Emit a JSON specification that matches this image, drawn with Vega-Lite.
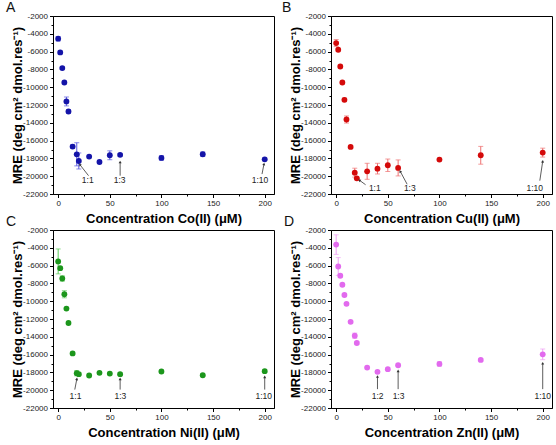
{
  "$schema": "https://vega.github.io/schema/vega-lite/v6.json",
  "padding": {"left": 5, "top": 0, "right": 2, "bottom": 2},
  "background": "white",
  "datasets": {
    "co": [
      {"conc": 0, "mre": -4550, "err": 250},
      {"conc": 2, "mre": -6090, "err": 150},
      {"conc": 4, "mre": -7850, "err": 150},
      {"conc": 6, "mre": -9470, "err": 150},
      {"conc": 8, "mre": -11600, "err": 500},
      {"conc": 10, "mre": -12730, "err": 200},
      {"conc": 14, "mre": -16670, "err": 200},
      {"conc": 18, "mre": -17540, "err": 1300},
      {"conc": 20, "mre": -18290, "err": 900},
      {"conc": 30, "mre": -17800, "err": 150},
      {"conc": 40, "mre": -18400, "err": 150},
      {"conc": 50, "mre": -17650, "err": 500},
      {"conc": 60, "mre": -17600, "err": 150},
      {"conc": 100, "mre": -17950, "err": 250},
      {"conc": 140, "mre": -17530, "err": 250},
      {"conc": 200, "mre": -18100, "err": 150}
    ],
    "coNotes": [
      {"label": "1:1", "conc": 21, "mre": -18700, "tx": 29.4, "ty": -19940, "lx": 28.6, "ly": -20470},
      {"label": "1:3", "conc": 60, "mre": -18400, "tx": 60, "ty": -19940, "lx": 59.5, "ly": -20470},
      {"label": "1:10", "conc": 199.3, "mre": -18630, "tx": 197.4, "ty": -19760, "lx": 195.4, "ly": -20470}
    ],
    "cu": [
      {"conc": 0, "mre": -5040, "err": 400},
      {"conc": 2, "mre": -5790, "err": 150},
      {"conc": 4, "mre": -7670, "err": 150},
      {"conc": 6, "mre": -9470, "err": 150},
      {"conc": 8, "mre": -11420, "err": 200},
      {"conc": 10, "mre": -13630, "err": 400},
      {"conc": 14, "mre": -16710, "err": 150},
      {"conc": 18, "mre": -19600, "err": 500},
      {"conc": 20, "mre": -20240, "err": 150},
      {"conc": 30, "mre": -19450, "err": 900},
      {"conc": 40, "mre": -19150, "err": 600},
      {"conc": 50, "mre": -18770, "err": 700},
      {"conc": 60, "mre": -19070, "err": 900},
      {"conc": 100, "mre": -18130, "err": 150},
      {"conc": 140, "mre": -17650, "err": 1000},
      {"conc": 200, "mre": -17350, "err": 500}
    ],
    "cuNotes": [
      {"label": "1:1", "conc": 22.5, "mre": -20450, "tx": 28.5, "ty": -20960, "lx": 37.4, "ly": -21330},
      {"label": "1:3", "conc": 62, "mre": -19450, "tx": 68.7, "ty": -20900, "lx": 71.3, "ly": -21330},
      {"label": "1:10", "conc": 200, "mre": -18330, "tx": 197.2, "ty": -20500, "lx": 192.3, "ly": -21330}
    ],
    "ni": [
      {"conc": 0, "mre": -5530, "err": 1400},
      {"conc": 2, "mre": -6290, "err": 150},
      {"conc": 4, "mre": -7450, "err": 300},
      {"conc": 6, "mre": -9220, "err": 400},
      {"conc": 8, "mre": -10830, "err": 150},
      {"conc": 10, "mre": -12450, "err": 150},
      {"conc": 14, "mre": -15870, "err": 150},
      {"conc": 18, "mre": -18090, "err": 300},
      {"conc": 20, "mre": -18200, "err": 150},
      {"conc": 30, "mre": -18350, "err": 150},
      {"conc": 40, "mre": -18050, "err": 150},
      {"conc": 50, "mre": -18130, "err": 150},
      {"conc": 60, "mre": -18200, "err": 150},
      {"conc": 100, "mre": -17900, "err": 150},
      {"conc": 140, "mre": -18320, "err": 150},
      {"conc": 200, "mre": -17860, "err": 150}
    ],
    "niNotes": [
      {"label": "1:1", "conc": 18.1, "mre": -18730, "tx": 16.1, "ty": -19930, "lx": 16.8, "ly": -20690},
      {"label": "1:3", "conc": 60, "mre": -18730, "tx": 60, "ty": -19930, "lx": 60.3, "ly": -20690},
      {"label": "1:10", "conc": 200, "mre": -18500, "tx": 200, "ty": -19930, "lx": 199, "ly": -20690}
    ],
    "zn": [
      {"conc": 0, "mre": -3640, "err": 1100},
      {"conc": 2, "mre": -6100, "err": 1000},
      {"conc": 4, "mre": -7140, "err": 150},
      {"conc": 6, "mre": -8150, "err": 150},
      {"conc": 8, "mre": -9300, "err": 150},
      {"conc": 10, "mre": -10300, "err": 150},
      {"conc": 14, "mre": -12320, "err": 150},
      {"conc": 18, "mre": -13880, "err": 300},
      {"conc": 20, "mre": -14700, "err": 150},
      {"conc": 30, "mre": -17460, "err": 150},
      {"conc": 40, "mre": -17940, "err": 150},
      {"conc": 50, "mre": -17640, "err": 150},
      {"conc": 60, "mre": -17200, "err": 150},
      {"conc": 100, "mre": -17050, "err": 250},
      {"conc": 140, "mre": -16600, "err": 150},
      {"conc": 200, "mre": -15970, "err": 600}
    ],
    "znNotes": [
      {"label": "1:2", "conc": 40, "mre": -18460, "tx": 40, "ty": -19880, "lx": 40.2, "ly": -20610},
      {"label": "1:3", "conc": 60, "mre": -17830, "tx": 60, "ty": -19880, "lx": 60.4, "ly": -20610},
      {"label": "1:10", "conc": 200, "mre": -16970, "tx": 200, "ty": -19880, "lx": 200, "ly": -20610}
    ]
  },
  "columns": 2,
  "spacing": {"row": 36, "column": 57},
  "bounds": "flush",
  "concat": [
    {
      "width": 221, "height": 178,
      "title": {"text": "A", "dx": -47},
      "encoding": {
        "x": {"field": "conc", "type": "quantitative", "title": "Concentration Co(II) (μM)", "scale": {"domain": [-5, 209], "nice": false, "zero": false},
          "axis": {"values": [0, 25, 50, 75, 100, 125, 150, 175, 200],
            "labelExpr": "datum.value % 50 === 0 ? '' + datum.value : ''",
            "tickSize": {"condition": {"test": "datum.value % 50 === 0", "value": 3.5}, "value": 2}}},
        "y": {"field": "mre", "type": "quantitative", "title": "MRE (deg cm² dmol.res⁻¹)", "scale": {"domain": [-22000, -2000], "nice": false, "zero": false},
          "axis": {"values": [-22000, -21000, -20000, -19000, -18000, -17000, -16000, -15000, -14000, -13000, -12000, -11000, -10000, -9000, -8000, -7000, -6000, -5000, -4000, -3000, -2000],
            "labelExpr": "datum.value % 2000 === 0 ? '' + datum.value : ''",
            "tickSize": {"condition": {"test": "datum.value % 2000 === 0", "value": 3.5}, "value": 2}}}
      },
      "layer": [
        {"data": {"name": "co"}, "mark": {"type": "errorbar", "color": "#5a5ae0", "thickness": 1, "ticks": {"size": 5, "thickness": 1}},
          "encoding": {"yError": {"field": "err"}}},
        {"data": {"name": "co"}, "mark": {"type": "point", "filled": true, "opacity": 1, "size": 34, "color": "#1414a8"}},
        {"data": {"name": "coNotes"}, "mark": {"type": "rule", "color": "#333333", "strokeWidth": 0.8},
          "encoding": {"x2": {"field": "tx"}, "y2": {"field": "ty"}}},
        {"data": {"name": "coNotes"},
          "transform": [{"calculate": "atan2((datum.conc - datum.tx) * 1.033, (datum.mre - datum.ty) * 0.0089) * 180 / PI", "as": "heading"}],
          "mark": {"type": "point", "shape": "triangle-up", "filled": true, "opacity": 1, "size": 9, "color": "#333333"},
          "encoding": {"angle": {"field": "heading", "type": "quantitative", "scale": null}}},
        {"data": {"name": "coNotes"}, "mark": {"type": "text", "fontSize": 8.5, "color": "#222222"},
          "encoding": {
            "x": {"field": "lx", "type": "quantitative", "title": "Concentration Co(II) (μM)", "scale": {"domain": [-5, 209], "nice": false, "zero": false}},
            "y": {"field": "ly", "type": "quantitative", "title": "MRE (deg cm² dmol.res⁻¹)", "scale": {"domain": [-22000, -2000], "nice": false, "zero": false}},
            "text": {"field": "label"}}}
      ]
    },
    {
      "width": 221, "height": 178,
      "title": {"text": "B", "dx": -49},
      "encoding": {
        "x": {"field": "conc", "type": "quantitative", "title": "Concentration Cu(II) (μM)", "scale": {"domain": [-5, 209], "nice": false, "zero": false},
          "axis": {"values": [0, 25, 50, 75, 100, 125, 150, 175, 200],
            "labelExpr": "datum.value % 50 === 0 ? '' + datum.value : ''",
            "tickSize": {"condition": {"test": "datum.value % 50 === 0", "value": 3.5}, "value": 2}}},
        "y": {"field": "mre", "type": "quantitative", "title": "MRE (deg cm² dmol.res⁻¹)", "scale": {"domain": [-22000, -2000], "nice": false, "zero": false},
          "axis": {"values": [-22000, -21000, -20000, -19000, -18000, -17000, -16000, -15000, -14000, -13000, -12000, -11000, -10000, -9000, -8000, -7000, -6000, -5000, -4000, -3000, -2000],
            "labelExpr": "datum.value % 2000 === 0 ? '' + datum.value : ''",
            "tickSize": {"condition": {"test": "datum.value % 2000 === 0", "value": 3.5}, "value": 2}}}
      },
      "layer": [
        {"data": {"name": "cu"}, "mark": {"type": "errorbar", "color": "#ee7070", "thickness": 1, "ticks": {"size": 5, "thickness": 1}},
          "encoding": {"yError": {"field": "err"}}},
        {"data": {"name": "cu"}, "mark": {"type": "point", "filled": true, "opacity": 1, "size": 34, "color": "#d40a0a"}},
        {"data": {"name": "cuNotes"}, "mark": {"type": "rule", "color": "#333333", "strokeWidth": 0.8},
          "encoding": {"x2": {"field": "tx"}, "y2": {"field": "ty"}}},
        {"data": {"name": "cuNotes"},
          "transform": [{"calculate": "atan2((datum.conc - datum.tx) * 1.033, (datum.mre - datum.ty) * 0.0089) * 180 / PI", "as": "heading"}],
          "mark": {"type": "point", "shape": "triangle-up", "filled": true, "opacity": 1, "size": 9, "color": "#333333"},
          "encoding": {"angle": {"field": "heading", "type": "quantitative", "scale": null}}},
        {"data": {"name": "cuNotes"}, "mark": {"type": "text", "fontSize": 8.5, "color": "#222222"},
          "encoding": {
            "x": {"field": "lx", "type": "quantitative", "title": "Concentration Cu(II) (μM)", "scale": {"domain": [-5, 209], "nice": false, "zero": false}},
            "y": {"field": "ly", "type": "quantitative", "title": "MRE (deg cm² dmol.res⁻¹)", "scale": {"domain": [-22000, -2000], "nice": false, "zero": false}},
            "text": {"field": "label"}}}
      ]
    },
    {
      "width": 221, "height": 178,
      "title": {"text": "C", "dx": -47},
      "encoding": {
        "x": {"field": "conc", "type": "quantitative", "title": "Concentration Ni(II) (μM)", "scale": {"domain": [-5, 209], "nice": false, "zero": false},
          "axis": {"values": [0, 25, 50, 75, 100, 125, 150, 175, 200],
            "labelExpr": "datum.value % 50 === 0 ? '' + datum.value : ''",
            "tickSize": {"condition": {"test": "datum.value % 50 === 0", "value": 3.5}, "value": 2}}},
        "y": {"field": "mre", "type": "quantitative", "title": "MRE (deg cm² dmol.res⁻¹)", "scale": {"domain": [-22000, -2000], "nice": false, "zero": false},
          "axis": {"values": [-22000, -21000, -20000, -19000, -18000, -17000, -16000, -15000, -14000, -13000, -12000, -11000, -10000, -9000, -8000, -7000, -6000, -5000, -4000, -3000, -2000],
            "labelExpr": "datum.value % 2000 === 0 ? '' + datum.value : ''",
            "tickSize": {"condition": {"test": "datum.value % 2000 === 0", "value": 3.5}, "value": 2}}}
      },
      "layer": [
        {"data": {"name": "ni"}, "mark": {"type": "errorbar", "color": "#5ccc5c", "thickness": 1, "ticks": {"size": 5, "thickness": 1}},
          "encoding": {"yError": {"field": "err"}}},
        {"data": {"name": "ni"}, "mark": {"type": "point", "filled": true, "opacity": 1, "size": 34, "color": "#1c961c"}},
        {"data": {"name": "niNotes"}, "mark": {"type": "rule", "color": "#333333", "strokeWidth": 0.8},
          "encoding": {"x2": {"field": "tx"}, "y2": {"field": "ty"}}},
        {"data": {"name": "niNotes"},
          "transform": [{"calculate": "atan2((datum.conc - datum.tx) * 1.033, (datum.mre - datum.ty) * 0.0089) * 180 / PI", "as": "heading"}],
          "mark": {"type": "point", "shape": "triangle-up", "filled": true, "opacity": 1, "size": 9, "color": "#333333"},
          "encoding": {"angle": {"field": "heading", "type": "quantitative", "scale": null}}},
        {"data": {"name": "niNotes"}, "mark": {"type": "text", "fontSize": 8.5, "color": "#222222"},
          "encoding": {
            "x": {"field": "lx", "type": "quantitative", "title": "Concentration Ni(II) (μM)", "scale": {"domain": [-5, 209], "nice": false, "zero": false}},
            "y": {"field": "ly", "type": "quantitative", "title": "MRE (deg cm² dmol.res⁻¹)", "scale": {"domain": [-22000, -2000], "nice": false, "zero": false}},
            "text": {"field": "label"}}}
      ]
    },
    {
      "width": 221, "height": 178,
      "title": {"text": "D", "dx": -47},
      "encoding": {
        "x": {"field": "conc", "type": "quantitative", "title": "Concentration Zn(II) (μM)", "scale": {"domain": [-5, 209], "nice": false, "zero": false},
          "axis": {"values": [0, 25, 50, 75, 100, 125, 150, 175, 200],
            "labelExpr": "datum.value % 50 === 0 ? '' + datum.value : ''",
            "tickSize": {"condition": {"test": "datum.value % 50 === 0", "value": 3.5}, "value": 2}}},
        "y": {"field": "mre", "type": "quantitative", "title": "MRE (deg cm² dmol.res⁻¹)", "scale": {"domain": [-22000, -2000], "nice": false, "zero": false},
          "axis": {"values": [-22000, -21000, -20000, -19000, -18000, -17000, -16000, -15000, -14000, -13000, -12000, -11000, -10000, -9000, -8000, -7000, -6000, -5000, -4000, -3000, -2000],
            "labelExpr": "datum.value % 2000 === 0 ? '' + datum.value : ''",
            "tickSize": {"condition": {"test": "datum.value % 2000 === 0", "value": 3.5}, "value": 2}}}
      },
      "layer": [
        {"data": {"name": "zn"}, "mark": {"type": "errorbar", "color": "#f0a0f5", "thickness": 1, "ticks": {"size": 5, "thickness": 1}},
          "encoding": {"yError": {"field": "err"}}},
        {"data": {"name": "zn"}, "mark": {"type": "point", "filled": true, "opacity": 1, "size": 34, "color": "#e26aee"}},
        {"data": {"name": "znNotes"}, "mark": {"type": "rule", "color": "#333333", "strokeWidth": 0.8},
          "encoding": {"x2": {"field": "tx"}, "y2": {"field": "ty"}}},
        {"data": {"name": "znNotes"},
          "transform": [{"calculate": "atan2((datum.conc - datum.tx) * 1.033, (datum.mre - datum.ty) * 0.0089) * 180 / PI", "as": "heading"}],
          "mark": {"type": "point", "shape": "triangle-up", "filled": true, "opacity": 1, "size": 9, "color": "#333333"},
          "encoding": {"angle": {"field": "heading", "type": "quantitative", "scale": null}}},
        {"data": {"name": "znNotes"}, "mark": {"type": "text", "fontSize": 8.5, "color": "#222222"},
          "encoding": {
            "x": {"field": "lx", "type": "quantitative", "title": "Concentration Zn(II) (μM)", "scale": {"domain": [-5, 209], "nice": false, "zero": false}},
            "y": {"field": "ly", "type": "quantitative", "title": "MRE (deg cm² dmol.res⁻¹)", "scale": {"domain": [-22000, -2000], "nice": false, "zero": false}},
            "text": {"field": "label"}}}
      ]
    }
  ],
  "config": {
    "font": "Liberation Sans",
    "view": {"stroke": "#000000", "strokeWidth": 1},
    "title": {"anchor": "start", "frame": "group", "fontSize": 14, "fontWeight": "normal", "color": "#111111", "offset": -3},
    "axis": {
      "grid": false,
      "domainColor": "#000000",
      "tickColor": "#000000",
      "labelFontSize": 8,
      "labelColor": "#222222",
      "labelPadding": 2,
      "titleFontSize": 13,
      "titleFontWeight": "bold",
      "titleColor": "#000000"
    },
    "axisX": {"titlePadding": 5, "labelFlush": false},
    "axisY": {"titlePadding": -2, "labelFlush": false}
  }
}
